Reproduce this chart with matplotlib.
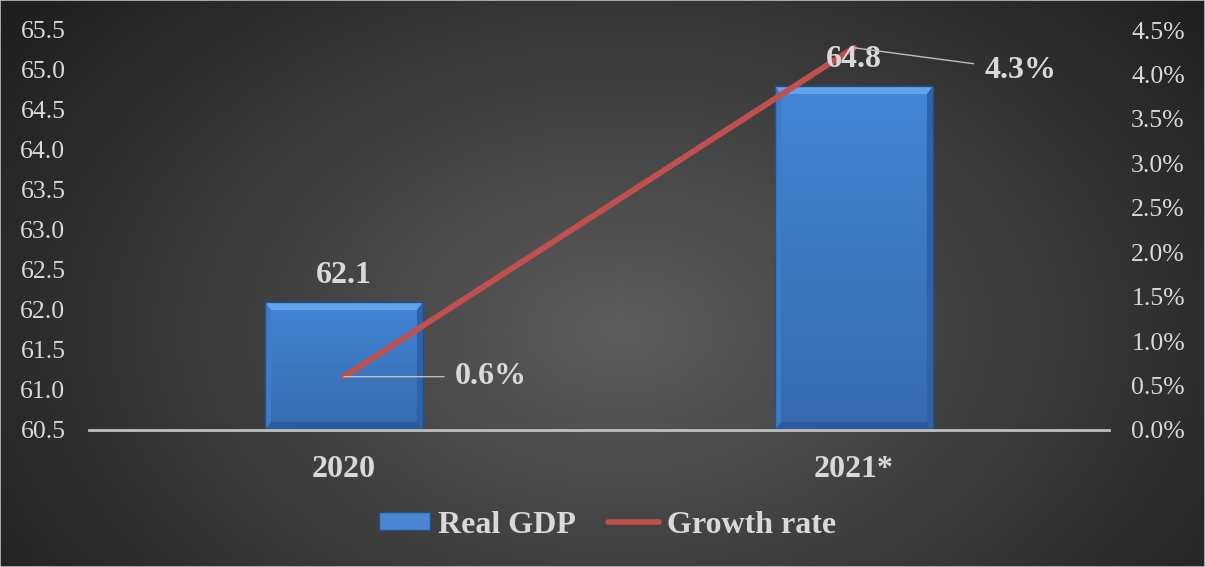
import numpy as np
import matplotlib
matplotlib.use("Agg")
from matplotlib import pyplot as plt
from matplotlib.patches import Patch, Polygon, Rectangle
from matplotlib.lines import Line2D
from matplotlib.ticker import FuncFormatter, MultipleLocator

years = ["2020", "2021*"]
real_gdp = [62.1, 64.8]
growth = [0.6, 4.3]

plt.rcParams['font.family'] = ['Liberation Serif', 'DejaVu Serif']
txt = '#d9d9d9'
red = '#c0504d'

fig = plt.figure(figsize=(12.05, 5.67), dpi=100)

# dark radial backdrop
bg = fig.add_axes([0, 0, 1, 1], zorder=-5)
yy, xx = np.mgrid[0:567, 0:1205]
r = np.sqrt(((xx - 620) / 760.0) ** 2 + ((yy - 330) / 520.0) ** 2)
shade = np.clip(0.36 - 0.24 * r, 0.12, 0.36)
bg.imshow(np.dstack([shade] * 3), extent=[0, 1, 0, 1], aspect='auto', origin='upper')
bg.set_axis_off()
fig.patches.append(Rectangle((0, 0), 1, 1, transform=fig.transFigure, fill=False,
                             edgecolor='#bfbfbf', lw=1.2))

ax = fig.add_axes([89 / 1205, 137 / 567, 1020 / 1205, 400 / 567])
ax.set_facecolor('none')
ax2 = ax.twinx()

x = np.arange(len(years))
w = 0.31
ymin, ymax = 60.5, 65.5

# bars with a vertical gradient and a bevelled rim
grad = np.linspace(0, 1, 100)[:, None]
top_c = np.array([0.26, 0.52, 0.84])
bot_c = np.array([0.21, 0.42, 0.68])
for xi, v in zip(x, real_gdp):
    x0, x1 = xi - w / 2, xi + w / 2
    cols = top_c * (1 - grad[..., None]) + bot_c * grad[..., None]
    cols = np.repeat(cols, 2, axis=1)
    ax.imshow(cols, extent=[x0, x1, ymin, v], aspect='auto', origin='upper', zorder=2)
    bx, by = 0.012, 0.1
    ax.add_patch(Polygon([[x0, v], [x1, v], [x1 - bx, v - by], [x0 + bx, v - by]],
                         closed=True, fc='#62a4ea', ec='none', zorder=3))
    ax.add_patch(Polygon([[x0, v], [x0 + bx, v - by], [x0 + bx, ymin + by], [x0, ymin]],
                         closed=True, fc='#3f7cc8', ec='none', zorder=3))
    ax.add_patch(Polygon([[x1, v], [x1 - bx, v - by], [x1 - bx, ymin + by], [x1, ymin]],
                         closed=True, fc='#2f62a6', ec='none', zorder=3))
    ax.add_patch(Polygon([[x0, ymin], [x1, ymin], [x1 - bx, ymin + by], [x0 + bx, ymin + by]],
                         closed=True, fc='#2c5c9c', ec='none', zorder=3))
    ax.add_patch(Rectangle((x0, ymin), w, v - ymin, fill=False, ec='#23508a', lw=1, zorder=3))

ax.set_xlim(-0.5, 1.5)
ax.set_ylim(ymin, ymax)
ax.yaxis.set_major_locator(MultipleLocator(0.5))
ax.yaxis.set_major_formatter(FuncFormatter(lambda v, p: f"{v:.1f}"))
ax.set_xticks(x)
ax.set_xticklabels(years, fontsize=23, fontweight='bold', color=txt)
ax.tick_params(axis='x', length=0, pad=18)
ax.tick_params(axis='y', length=0, pad=17, labelsize=18.5, labelcolor=txt)

ax2.plot(x, growth, color=red, lw=4.2, solid_capstyle='round', zorder=5)
ax2.set_ylim(0, 4.5)
ax2.yaxis.set_major_locator(MultipleLocator(0.5))
ax2.yaxis.set_major_formatter(FuncFormatter(lambda v, p: f"{v:.1f}%"))
ax2.tick_params(axis='y', length=0, pad=16, labelsize=18.5, labelcolor=txt)

# value labels sit above the growth line
for xi, v in zip(x, real_gdp):
    ax2.annotate(f"{v:.1f}", (xi, v), xycoords=ax.transData, xytext=(0, 14),
                 textcoords='offset points', ha='center', va='baseline', fontsize=23,
                 fontweight='bold', color=txt, zorder=10)

offsets = [(80, 0), (94, -16)]
for xi, g, off in zip(x, growth, offsets):
    ax2.annotate(f"{g:.1f}%", (xi, g), xytext=off, textcoords='offset points',
                 ha='left', va='center', fontsize=23, fontweight='bold', color=txt, zorder=10,
                 arrowprops=dict(arrowstyle='-', color='#bfbfbf', lw=1, shrinkA=6, shrinkB=0))

for a in (ax, ax2):
    for s in a.spines.values():
        s.set_visible(False)
ax.spines['bottom'].set_visible(True)
ax.spines['bottom'].set_color('#bfbfbf')
ax.spines['bottom'].set_linewidth(2)
ax.spines['bottom'].set_zorder(4)

handles = [Patch(facecolor='#4a86d4', edgecolor='#24508c', label='Real GDP'),
           Line2D([0], [0], color=red, lw=4, solid_capstyle='round', label='Growth rate')]
fig.legend(handles=handles, loc='center', bbox_to_anchor=(0.5045, 0.074), ncol=2,
           frameon=False, handlelength=1.6, handleheight=0.5, handletextpad=0.25,
           columnspacing=1.0, prop=dict(family='Liberation Serif', weight='bold', size=23),
           labelcolor=txt)

fig.savefig("out.png", dpi=100)
